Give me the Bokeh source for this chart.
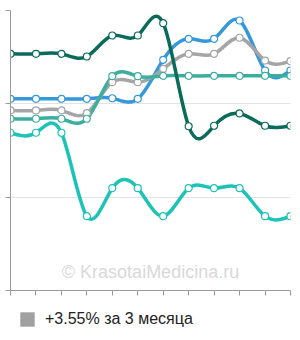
import numpy as np
from bokeh.plotting import figure
from bokeh.layouts import column
from bokeh.models import Range1d, FixedTicker, LinearAxis, Legend, LegendItem, Label, ColumnDataSource
from bokeh.embed import file_html
from bokeh.resources import INLINE

# ---- data (arbitrary units; gridlines at 1, 2, 3) ----
months = list(range(12))
dark_values  = [2.536, 2.536, 2.536, 2.507, 2.732, 2.732, 2.864, 1.760, 1.765, 1.897, 1.765, 1.765]
blue_values  = [2.054, 2.054, 2.054, 2.054, 2.060, 2.054, 2.472, 2.697, 2.697, 2.893, 2.357, 2.357]
gray_values  = [1.929, 1.929, 1.929, 1.900, 2.232, 2.232, 2.375, 2.536, 2.536, 2.708, 2.464, 2.457]
teal_values  = [1.840, 1.840, 1.840, 1.840, 2.296, 2.296, 2.300, 2.300, 2.300, 2.300, 2.300, 2.300]
cyan_values  = [1.690, 1.690, 1.690, 0.796, 1.096, 1.096, 0.796, 1.096, 1.096, 1.096, 0.796, 0.796]

series = [
    ("blue", blue_values, "#3498db"),
    ("gray", gray_values, "#a5a5a5"),
    ("teal", teal_values, "#3cae9f"),
    ("cyan", cyan_values, "#1ec3b7"),
    ("dark", dark_values, "#0b6b5b"),
]
legend_label = "+3.55% за 3 месяца"
legend_color = "#a0a0a0"
watermark = "© KrasotaiMedicina.ru"


def natural_spline_beziers(xs, ys):
    xs = np.asarray(xs, float)
    ys = np.asarray(ys, float)
    n = len(ys)
    A = np.zeros((n, n))
    b = np.zeros(n)
    A[0, 0] = 1.0
    A[-1, -1] = 1.0
    for i in range(1, n - 1):
        A[i, i - 1] = 1.0
        A[i, i] = 4.0
        A[i, i + 1] = 1.0
        b[i] = 6.0 * (ys[i + 1] - 2 * ys[i] + ys[i - 1])
    M = np.linalg.solve(A, b)
    x0, y0, x1, y1, cx0, cy0, cx1, cy1 = [], [], [], [], [], [], [], []
    for i in range(n - 1):
        d = ys[i + 1] - ys[i]
        s0 = d - (2 * M[i] + M[i + 1]) / 6.0
        s1 = d + (M[i] + 2 * M[i + 1]) / 6.0
        x0.append(xs[i]); y0.append(ys[i])
        x1.append(xs[i + 1]); y1.append(ys[i + 1])
        cx0.append(xs[i] + 1 / 3); cy0.append(ys[i] + s0 / 3)
        cx1.append(xs[i + 1] - 1 / 3); cy1.append(ys[i + 1] - s1 / 3)
    return dict(x0=x0, y0=y0, x1=x1, y1=y1, cx0=cx0, cy0=cy0, cx1=cx1, cy1=cy1)


p = figure(width=300, height=300, output_backend="svg", toolbar_location=None,
           x_range=Range1d(0, 11), y_range=Range1d(0, 3),
           min_border_left=10, min_border_right=10, min_border_top=10, min_border_bottom=10,
           x_axis_location=None, y_axis_location=None)
p.outline_line_color = None
p.background_fill_color = "white"
p.border_fill_color = "white"

xaxis = LinearAxis(ticker=FixedTicker(ticks=months),
                   major_label_overrides={m: "" for m in months})
yaxis = LinearAxis(ticker=FixedTicker(ticks=[0, 1, 2, 3]),
                   major_label_overrides={v: "" for v in [0, 1, 2, 3]})
for ax in (xaxis, yaxis):
    ax.axis_line_color = "#9a9a9a"
    ax.major_tick_line_color = "#9a9a9a"
    ax.major_tick_in = 0
    ax.major_tick_out = 5
    ax.minor_tick_line_color = None
    ax.major_label_standoff = 0
    ax.major_label_text_font_size = "1px"
p.add_layout(xaxis, "below")
p.add_layout(yaxis, "left")

p.xgrid.visible = False
p.ygrid.ticker = FixedTicker(ticks=[1, 2, 3])
p.ygrid.grid_line_color = "#e3e3e3"
p.ygrid.grid_line_width = 1

p.add_layout(Label(x=5.5, y=0.2, text=watermark, text_align="center", text_baseline="middle",
                   text_font="Liberation Sans", text_font_size="18px", text_color="#d9d9d9"))

for name, vals, col in series:
    src = ColumnDataSource(natural_spline_beziers(months, vals))
    p.bezier(x0="x0", y0="y0", x1="x1", y1="y1", cx0="cx0", cy0="cy0", cx1="cx1", cy1="cy1",
             source=src, line_color=col, line_width=3.5, line_cap="round")
for name, vals, col in series:
    p.scatter(months, vals, marker="circle", size=7, fill_color="white", line_color=col, line_width=1.2)

# legend strip below the chart (the swatch renderer sits outside the visible range)
lg = figure(width=300, height=40, output_backend="svg", toolbar_location=None,
            x_range=Range1d(0, 1), y_range=Range1d(0, 1),
            min_border_left=0, min_border_right=0, min_border_top=0, min_border_bottom=0,
            x_axis_location=None, y_axis_location=None)
lg.outline_line_color = None
lg.grid.visible = False
swatch = lg.quad(left=[-3], right=[-2], top=[-2], bottom=[-3], fill_color=legend_color, line_color=None)
legend = Legend(items=[LegendItem(label=legend_label, renderers=[swatch], index=0)],
                location=(8, 12), orientation="horizontal",
                border_line_color=None, background_fill_alpha=0,
                padding=0, margin=0, spacing=0,
                glyph_width=18, glyph_height=18, label_height=18, label_standoff=9,
                label_text_font="Liberation Sans", label_text_font_size="16px",
                label_text_color="#222222")
lg.add_layout(legend, "center")

layout = column(p, lg, spacing=0)
open("out.html", "w").write(file_html(layout, INLINE))
